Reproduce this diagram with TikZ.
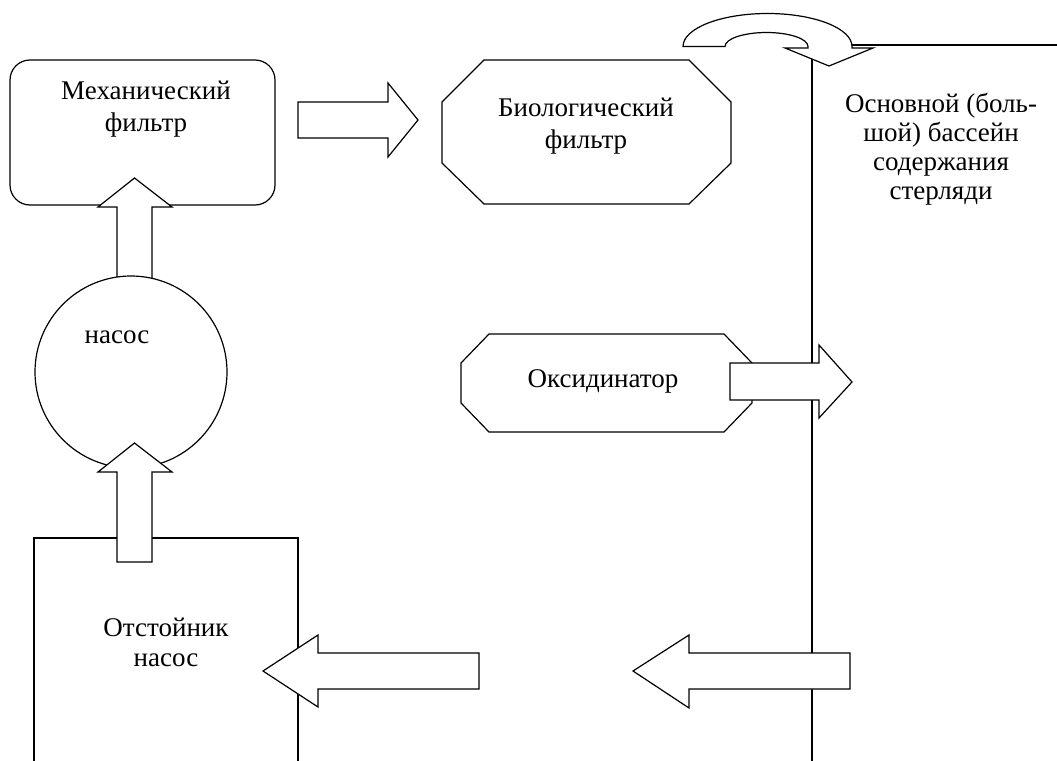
\documentclass[tikz,border=0pt]{standalone}
\usepackage{fontspec}
\setmainfont{Liberation Serif}
\usepackage{tikz}
\usetikzlibrary{positioning,calc}

\begin{document}
\begin{tikzpicture}[x=1pt, y=-1pt, line width=1.2pt,
    box/.style={draw, fill=white, outer sep=0pt, inner sep=0pt},
    frame/.style={outer sep=0pt, inner sep=0pt},
    blockarr/.style={draw, fill=white, line join=miter},
    lbl/.style={align=center, inner sep=0pt, font=\fontsize{27}{32}\selectfont}]
  \useasboundingbox (0,0) rectangle (1057,760);

  % --- left column: filter, pump, settler ---
  \node[box, rounded corners=20pt, minimum width=265pt, minimum height=145pt] (mech) at (142.5,132.5) {};
  \draw[blockarr] (117,290) -- (117,207) -- (98,207) -- (134.5,178) -- (172,207) -- (152,207) -- (152,290) -- cycle;
  \node[box, circle, minimum size=192pt] (pump) at (131,372) {};
  \draw (34,775) |- (298,538) coordinate (settlerNE) -- (298,775);
  \draw[blockarr] (117,562) -- (117,472) -- (98,472) -- (134.5,443) -- (172,472) -- (152,472) -- (152,562) -- cycle;
  \draw[blockarr] (479,653) -- (318,653) -- (318,635) -- (263,671) -- (318,707) -- (318,689) -- (479,689) -- cycle;

  % --- middle: bio filter and oxidizer (octagons cut from frames) ---
  \draw[blockarr] (298,102) -- (388,102) -- (388,83) -- (418,120) -- (388,157) -- (388,138) -- (298,138) -- cycle;
  \node[frame, minimum width=289pt, minimum height=144pt] (bio) at (586.5,132) {};
  \draw[fill=white] ($(bio.north west)+(42,0)$) -- ($(bio.north east)+(-42,0)$)
    -- ($(bio.north east)+(0,42)$) -- ($(bio.south east)+(0,-41)$)
    -- ($(bio.south east)+(-42,0)$) -- ($(bio.south west)+(42,0)$)
    -- ($(bio.south west)+(0,-41)$) -- ($(bio.north west)+(0,42)$) -- cycle;
  \node[frame, minimum width=291pt, minimum height=98pt] (oxid) at (606.5,383) {};
  \draw[fill=white] ($(oxid.north west)+(28,0)$) -- ($(oxid.north east)+(-28,0)$)
    -- ($(oxid.north east)+(0,29)$) -- ($(oxid.south east)+(0,-29)$)
    -- ($(oxid.south east)+(-28,0)$) -- ($(oxid.south west)+(28,0)$)
    -- ($(oxid.south west)+(0,-29)$) -- ($(oxid.north west)+(0,29)$) -- cycle;

  % --- pool wall ---
  \coordinate (wallTop) at (812,48);
  \coordinate (wallBot) at (812,775);
  \draw (wallTop) -- (wallBot);
  \draw[blockarr] (730,363) -- (819,363) -- (819,345) -- (852,382) -- (819,418) -- (819,400) -- (730,400) -- cycle;
  \draw[blockarr] (850,653) -- (689,653) -- (689,635) -- (633,671) -- (689,708) -- (689,689) -- (850,689) -- cycle;

  % --- inflow over the wall ---
  \coordinate (inlet) at (1060,45);
  \draw (852,45) -- (inlet);
  \draw[blockarr] (683,46.5) arc[start angle=180, end angle=360, x radius=84.5, y radius=33]
    -- (852,48) -- (873,48) -- (829,66) -- (785,48) -- (808,48) -- (808,46.5)
    arc[start angle=0, end angle=-180, x radius=41.5, y radius=14] -- cycle;

  % --- labels ---
  \node[lbl] (mechT) at (146,109) {Механический\\фильтр};
  \node[lbl] (bioT) at (586,126) {Биологический\\фильтр};
  \node[lbl] (pumpT) at (117,337) {насос};
  \node[lbl] (oxidT) at (603,381) {Оксидинатор};
  \node[lbl, font=\fontsize{27}{30}\selectfont] (settlerT) at (166,642) {Отстойник\\насос};
  \node[lbl, font=\fontsize{27}{29}\selectfont] (poolT) at (941,149) {Основной (боль-\\шой) бассейн\\содержания\\стерляди};
\end{tikzpicture}
\end{document}
